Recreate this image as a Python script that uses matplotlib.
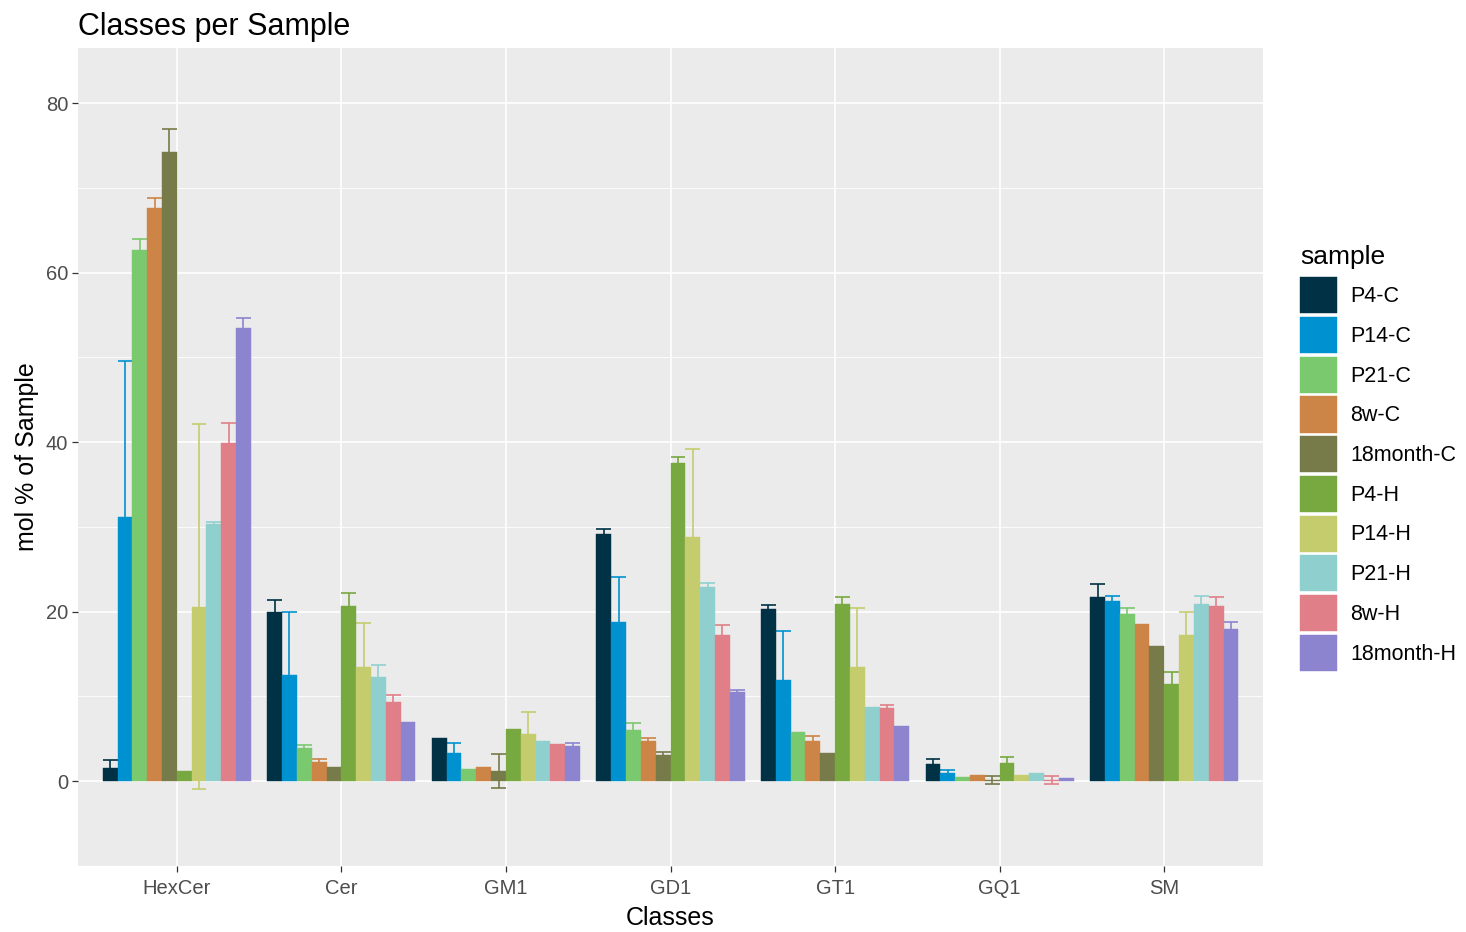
import numpy as np
import matplotlib
matplotlib.use('Agg')
import matplotlib.pyplot as plt
from matplotlib.patches import Patch

plt.rcParams['font.family'] = ['Liberation Sans', 'DejaVu Sans']

nan = np.nan

# classes on the x axis
classes = ['HexCer', 'Cer', 'GM1', 'GD1', 'GT1', 'GQ1', 'SM']
samples = ['P4-C', 'P14-C', 'P21-C', '8w-C', '18month-C',
           'P4-H', 'P14-H', 'P21-H', '8w-H', '18month-H']
colors = ['#003144', '#0091D0', '#7BC96F', '#CD8447', '#777B49',
          '#78A840', '#C5CC6E', '#8FD0CF', '#E07F87', '#8C84CF']

# mean mol % per sample (order of classes)
p4_c = [1.6, 20.0, 5.15, 29.2, 20.3, 2.05, 21.7]
p14_c = [31.2, 12.5, 3.3, 18.8, 11.9, 1.02, 21.3]
p21_c = [62.7, 3.9, 1.43, 6.1, 5.86, 0.47, 19.7]
w8_c = [67.6, 2.26, 1.63, 4.7, 4.7, 0.79, 18.6]
m18_c = [74.2, 1.66, 1.25, 3.1, 3.3, 0.16, 15.96]
p4_h = [1.16, 20.7, 6.2, 37.6, 20.9, 2.2, 11.45]
p14_h = [20.6, 13.5, 5.6, 28.8, 13.5, 0.79, 17.2]
p21_h = [30.4, 12.3, 4.74, 22.9, 8.75, 1.02, 20.9]
w8_h = [39.9, 9.4, 4.34, 17.2, 8.6, 0.16, 20.7]
m18_h = [53.5, 7.0, 4.14, 10.5, 6.5, 0.43, 18.0]

# standard deviations (nan = no error bar drawn)
p4_c_sd = [0.9, 1.4, nan, 0.6, 0.5, 0.55, 1.6]
p14_c_sd = [18.4, 7.5, 1.2, 5.3, 5.8, 0.32, 0.6]
p21_c_sd = [1.3, 0.4, nan, 0.8, nan, nan, 0.7]
w8_c_sd = [1.2, 0.4, nan, 0.4, 0.6, nan, nan]
m18_c_sd = [2.7, nan, 2.0, 0.35, nan, 0.44, nan]
p4_h_sd = [nan, 1.5, nan, 0.6, 0.8, 0.6, 1.45]
p14_h_sd = [21.5, 5.2, 2.6, 10.4, 6.9, nan, 2.8]
p21_h_sd = [0.2, 1.4, nan, 0.5, nan, nan, 1.0]
w8_h_sd = [2.4, 0.8, nan, 1.2, 0.4, 0.44, 1.0]
m18_h_sd = [1.2, nan, 0.32, 0.3, nan, nan, 0.8]

means = [p4_c, p14_c, p21_c, w8_c, m18_c, p4_h, p14_h, p21_h, w8_h, m18_h]
sds = [p4_c_sd, p14_c_sd, p21_c_sd, w8_c_sd, m18_c_sd,
       p4_h_sd, p14_h_sd, p21_h_sd, w8_h_sd, m18_h_sd]

fig = plt.figure(figsize=(14.66, 9.32), dpi=100)
ax = fig.add_axes([78/1466, 66/932, (1263-78)/1466, (866-48)/932])
ax.set_facecolor('#EBEBEB')

x = np.arange(1, len(classes) + 1)
dodge = 0.9
w = dodge / len(samples)

for j, (m, sd, c) in enumerate(zip(means, sds, colors)):
    xs = x + (j - (len(samples) - 1) / 2) * w
    m = np.array(m)
    sd = np.array(sd)
    ok = ~np.isnan(sd)
    # error bars underneath the bars, like ggplot with errorbar first
    ax.vlines(xs[ok], m[ok] - sd[ok], m[ok] + sd[ok], color=c, lw=1.2, zorder=2)
    ax.hlines(m[ok] + sd[ok], xs[ok] - w / 2, xs[ok] + w / 2, color=c, lw=1.2, zorder=2)
    ax.hlines(m[ok] - sd[ok], xs[ok] - w / 2, xs[ok] + w / 2, color=c, lw=1.2, zorder=2)
    ax.bar(xs, m, width=w, color=c, edgecolor=c, linewidth=0.3, zorder=3)

ax.set_xlim(0.4, 7.6)
ax.set_ylim(-10.0, 86.5)
ax.set_xticks(x)
ax.set_xticklabels(classes)
ax.set_yticks([0, 20, 40, 60, 80])
ax.set_yticks([10, 30, 50, 70], minor=True)
ax.grid(which='major', color='white', lw=1.2, zorder=0)
ax.grid(which='minor', axis='y', color='white', lw=0.6, zorder=0)
ax.set_axisbelow(True)
for s in ax.spines.values():
    s.set_visible(False)
ax.tick_params(axis='both', which='major', length=4, width=0.9, color='#333333',
               labelsize=14.5, labelcolor='#4D4D4D', pad=3)
ax.tick_params(axis='x', which='major', pad=5)
ax.tick_params(axis='both', which='minor', length=0)

ax.set_xlabel('Classes', fontsize=18, labelpad=6)
ax.set_ylabel('mol % of Sample', fontsize=18, labelpad=5)
ax.set_title('Classes per Sample', fontsize=22, loc='left', pad=9)

handles = [Patch(facecolor=c, edgecolor=c, lw=0.3) for c in colors]
leg = fig.legend(handles, samples, loc='upper left', bbox_to_anchor=(1300/1466, 1 - 245/932),
                 frameon=False, fontsize=15.5, title='sample', title_fontsize=19,
                 handlelength=1.72, handleheight=2.2, labelspacing=0.17,
                 handletextpad=0.6, borderaxespad=0, borderpad=0)
leg._legend_box.align = 'left'
leg._legend_box.sep = 6

fig.savefig('out.png', dpi=100)
